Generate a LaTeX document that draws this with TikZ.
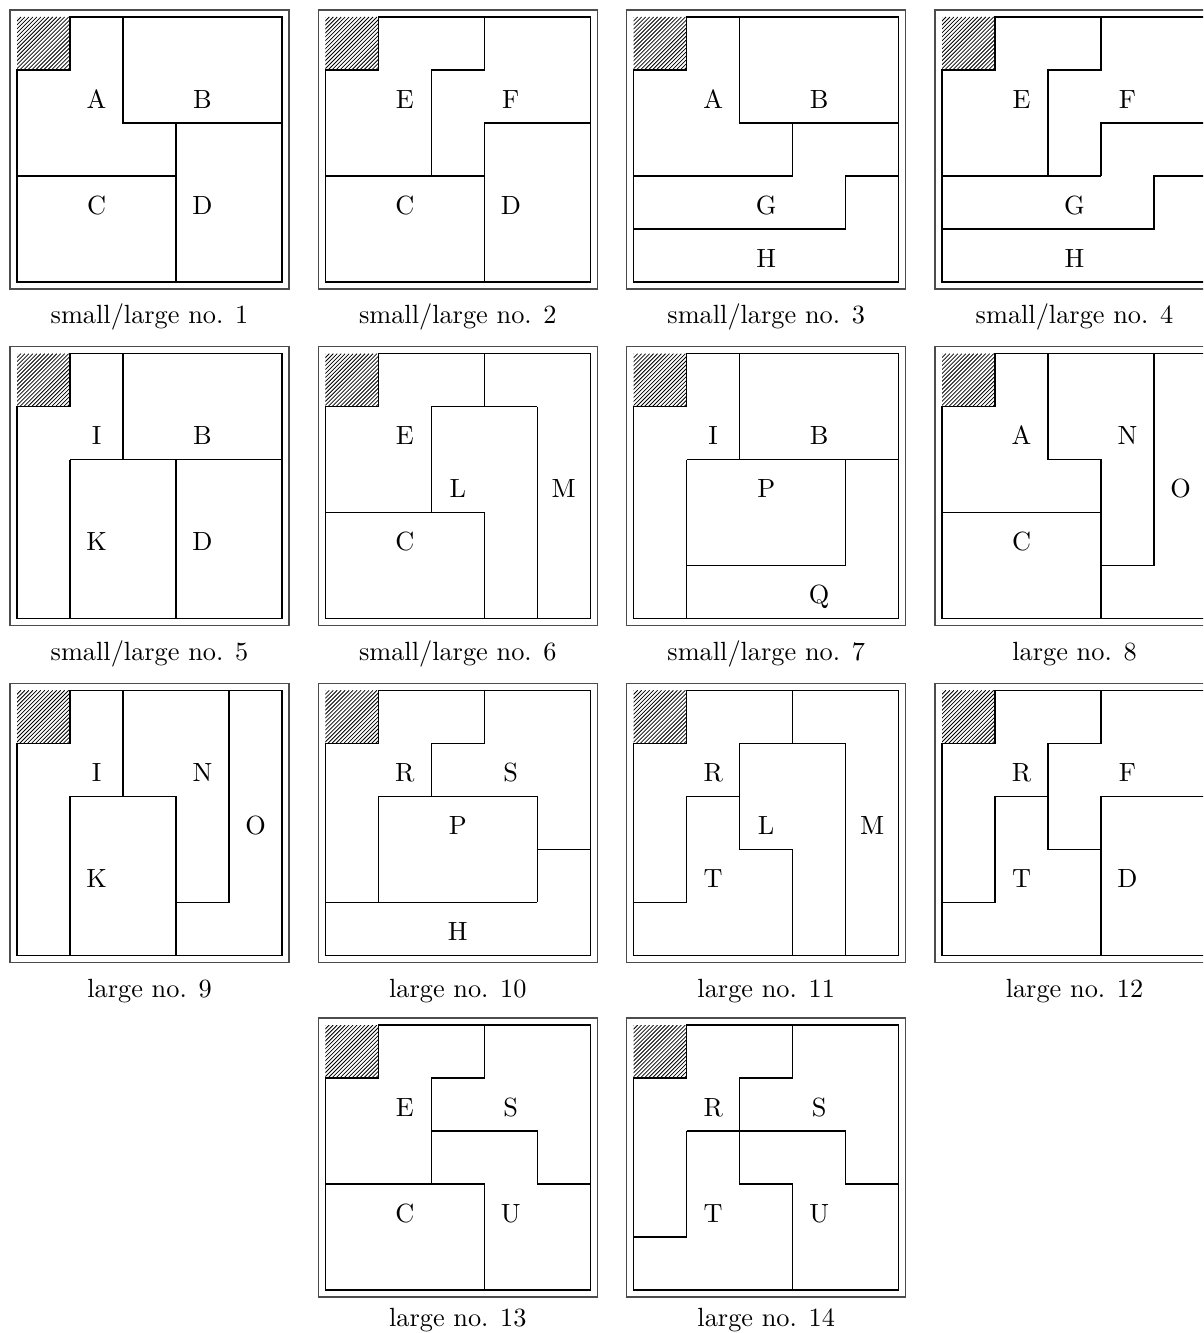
\documentclass[tikz,border=0pt]{standalone}
\usepackage{fontspec}
\newcommand\capy{5.79}
\newcommand\drawpanel[6]{% #1 x, #2 y, #3 walls, #4 labels, #5 caption, #6 id
 \begin{scope}[shift={(#1,#2)}, x=20.14pt, y=-20.14pt]
   \draw[frame] (-0.132,-0.132) rectangle (5.132,5.132);
   \begin{scope}
     \clip (0,0) rectangle (1,1);
     \foreach \t in {-1,-0.925,...,1.05} \draw[hatchline] (\t,1) -- (\t+1,0);
   \end{scope}
   \draw[wall] (1,0) -- (5,0) -- (5,5) -- (0,5) -- (0,1) -- (1,1) -- cycle;
   #3
   #4
   \node[captext] (cap#6) at (2.5,\capy) {#5};
 \end{scope}}
\begin{document}
\begin{tikzpicture}[x=0.38pt,y=-0.38pt,
  frame/.style={draw=black!70, line width=0.45pt},
  wall/.style={draw=black, line width=0.5pt, line join=miter},
  hatchline/.style={draw=black, line width=0.3pt},
  lbl/.style={anchor=base, yshift=-4.4pt, inner sep=0pt},
  captext/.style={anchor=base, inner sep=0pt}]
\clip (0,0) rectangle (1203,1333);
\useasboundingbox (0,0) rectangle (1203,1333);

% 1
\drawpanel{17}{17}{%
  \draw[wall] (2,0) -- (2,2) -- (5,2);
  \draw[wall] (0,3) -- (3,3);
  \draw[wall] (3,2) -- (3,5);
}{%
  \node[lbl] (p1A) at (1.5,1.5) {A};
  \node[lbl] (p1B) at (3.5,1.5) {B};
  \node[lbl] (p1C) at (1.5,3.5) {C};
  \node[lbl] (p1D) at (3.5,3.5) {D};
}{small/large no. 1}{1}

% 2
\drawpanel{325.3}{17}{%
  \draw[wall] (3,0) -- (3,1) -- (2,1) -- (2,3);
  \draw[wall] (0,3) -- (3,3);
  \draw[wall] (3,2) -- (5,2);
  \draw[wall] (3,2) -- (3,5);
}{%
  \node[lbl] (p2E) at (1.5,1.5) {E};
  \node[lbl] (p2F) at (3.5,1.5) {F};
  \node[lbl] (p2C) at (1.5,3.5) {C};
  \node[lbl] (p2D) at (3.5,3.5) {D};
}{small/large no. 2}{2}

% 3
\drawpanel{633.7}{17}{%
  \draw[wall] (2,0) -- (2,2) -- (5,2);
  \draw[wall] (3,2) -- (3,3);
  \draw[wall] (0,3) -- (3,3);
  \draw[wall] (5,3) -- (4,3) -- (4,4) -- (0,4);
}{%
  \node[lbl] (p3A) at (1.5,1.5) {A};
  \node[lbl] (p3B) at (3.5,1.5) {B};
  \node[lbl] (p3G) at (2.5,3.5) {G};
  \node[lbl] (p3H) at (2.5,4.5) {H};
}{small/large no. 3}{3}

% 4
\drawpanel{942}{17}{%
  \draw[wall] (3,0) -- (3,1) -- (2,1) -- (2,3);
  \draw[wall] (5,2) -- (3,2) -- (3,3);
  \draw[wall] (0,3) -- (3,3);
  \draw[wall] (5,3) -- (4,3) -- (4,4) -- (0,4);
}{%
  \node[lbl] (p4E) at (1.5,1.5) {E};
  \node[lbl] (p4F) at (3.5,1.5) {F};
  \node[lbl] (p4G) at (2.5,3.5) {G};
  \node[lbl] (p4H) at (2.5,4.5) {H};
}{small/large no. 4}{4}

% 5
\drawpanel{17}{353.7}{%
  \draw[wall] (2,0) -- (2,2);
  \draw[wall] (1,2) -- (5,2);
  \draw[wall] (1,2) -- (1,5);
  \draw[wall] (3,2) -- (3,5);
}{%
  \node[lbl] (p5I) at (1.5,1.5) {I};
  \node[lbl] (p5B) at (3.5,1.5) {B};
  \node[lbl] (p5K) at (1.5,3.5) {K};
  \node[lbl] (p5D) at (3.5,3.5) {D};
}{small/large no. 5}{5}

% 6
\drawpanel{325.3}{353.7}{%
  \draw[wall] (3,0) -- (3,1);
  \draw[wall] (2,1) -- (4,1);
  \draw[wall] (2,1) -- (2,3);
  \draw[wall] (0,3) -- (3,3) -- (3,5);
  \draw[wall] (4,1) -- (4,5);
}{%
  \node[lbl] (p6E) at (1.5,1.5) {E};
  \node[lbl] (p6L) at (2.5,2.5) {L};
  \node[lbl] (p6M) at (4.5,2.5) {M};
  \node[lbl] (p6C) at (1.5,3.5) {C};
}{small/large no. 6}{6}

% 7
\drawpanel{633.7}{353.7}{%
  \draw[wall] (2,0) -- (2,2);
  \draw[wall] (1,2) -- (5,2);
  \draw[wall] (1,2) -- (1,5);
  \draw[wall] (4,2) -- (4,4) -- (1,4);
}{%
  \node[lbl] (p7I) at (1.5,1.5) {I};
  \node[lbl] (p7B) at (3.5,1.5) {B};
  \node[lbl] (p7P) at (2.5,2.5) {P};
  \node[lbl] (p7Q) at (3.5,4.5) {Q};
}{small/large no. 7}{7}

% 8
\drawpanel{942}{353.7}{%
  \draw[wall] (2,0) -- (2,2) -- (3,2) -- (3,5);
  \draw[wall] (0,3) -- (3,3);
  \draw[wall] (4,0) -- (4,4) -- (3,4);
}{%
  \node[lbl] (p8A) at (1.5,1.5) {A};
  \node[lbl] (p8N) at (3.5,1.5) {N};
  \node[lbl] (p8O) at (4.5,2.5) {O};
  \node[lbl] (p8C) at (1.5,3.5) {C};
}{large no. 8}{8}

% 9
\drawpanel{17}{690.3}{%
  \draw[wall] (2,0) -- (2,2);
  \draw[wall] (1,2) -- (3,2);
  \draw[wall] (1,2) -- (1,5);
  \draw[wall] (3,2) -- (3,5);
  \draw[wall] (3,4) -- (4,4) -- (4,0);
}{%
  \node[lbl] (p9I) at (1.5,1.5) {I};
  \node[lbl] (p9N) at (3.5,1.5) {N};
  \node[lbl] (p9O) at (4.5,2.5) {O};
  \node[lbl] (p9K) at (1.5,3.5) {K};
}{large no. 9}{9}

% 10
\drawpanel{325.3}{690.3}{%
  \draw[wall] (3,0) -- (3,1) -- (2,1) -- (2,2);
  \draw[wall] (1,2) -- (4,2);
  \draw[wall] (1,2) -- (1,4);
  \draw[wall] (4,2) -- (4,4);
  \draw[wall] (4,3) -- (5,3);
  \draw[wall] (0,4) -- (4,4);
}{%
  \node[lbl] (p10R) at (1.5,1.5) {R};
  \node[lbl] (p10S) at (3.5,1.5) {S};
  \node[lbl] (p10P) at (2.5,2.5) {P};
  \node[lbl] (p10H) at (2.5,4.5) {H};
}{large no. 10}{10}

% 11
\drawpanel{633.7}{690.3}{%
  \draw[wall] (3,0) -- (3,1);
  \draw[wall] (2,1) -- (4,1);
  \draw[wall] (2,1) -- (2,3) -- (3,3) -- (3,5);
  \draw[wall] (4,1) -- (4,5);
  \draw[wall] (0,4) -- (1,4) -- (1,2) -- (2,2);
}{%
  \node[lbl] (p11R) at (1.5,1.5) {R};
  \node[lbl] (p11L) at (2.5,2.5) {L};
  \node[lbl] (p11M) at (4.5,2.5) {M};
  \node[lbl] (p11T) at (1.5,3.5) {T};
}{large no. 11}{11}

% 12
\drawpanel{942}{690.3}{%
  \draw[wall] (3,0) -- (3,1) -- (2,1) -- (2,3) -- (3,3);
  \draw[wall] (0,4) -- (1,4) -- (1,2) -- (2,2);
  \draw[wall] (5,2) -- (3,2) -- (3,5);
}{%
  \node[lbl] (p12R) at (1.5,1.5) {R};
  \node[lbl] (p12F) at (3.5,1.5) {F};
  \node[lbl] (p12T) at (1.5,3.5) {T};
  \node[lbl] (p12D) at (3.5,3.5) {D};
}{large no. 12}{12}

\renewcommand\capy{5.68}
% 13
\drawpanel{325.3}{1025}{%
  \draw[wall] (3,0) -- (3,1) -- (2,1) -- (2,3);
  \draw[wall] (2,2) -- (4,2) -- (4,3) -- (5,3);
  \draw[wall] (0,3) -- (3,3) -- (3,5);
}{%
  \node[lbl] (p13E) at (1.5,1.5) {E};
  \node[lbl] (p13S) at (3.5,1.5) {S};
  \node[lbl] (p13C) at (1.5,3.5) {C};
  \node[lbl] (p13U) at (3.5,3.5) {U};
}{large no. 13}{13}

% 14
\drawpanel{633.7}{1025}{%
  \draw[wall] (3,0) -- (3,1) -- (2,1) -- (2,3) -- (3,3) -- (3,5);
  \draw[wall] (1,2) -- (4,2) -- (4,3) -- (5,3);
  \draw[wall] (1,2) -- (1,4) -- (0,4);
}{%
  \node[lbl] (p14R) at (1.5,1.5) {R};
  \node[lbl] (p14S) at (3.5,1.5) {S};
  \node[lbl] (p14T) at (1.5,3.5) {T};
  \node[lbl] (p14U) at (3.5,3.5) {U};
}{large no. 14}{14}

\end{tikzpicture}
\end{document}
